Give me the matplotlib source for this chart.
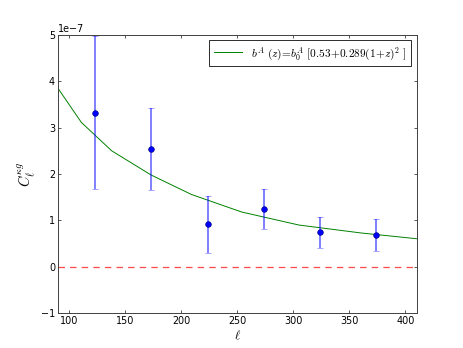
import matplotlib
matplotlib.use("Agg")
import matplotlib.pyplot as plt
import numpy as np

# measured C_ell^{kappa g} band powers
ell = [123, 173, 224, 274, 324, 374]
cl = [3.32e-7, 2.53e-7, 0.915e-7, 1.245e-7, 0.74e-7, 0.68e-7]
cl_err = [1.65e-7, 0.885e-7, 0.62e-7, 0.44e-7, 0.33e-7, 0.35e-7]

# theory curve for the bias model
ell_th = [90, 111, 138, 173, 209, 254, 305, 360, 410]
cl_th = [3.85e-7, 3.11e-7, 2.50e-7, 1.98e-7, 1.56e-7, 1.18e-7, 0.90e-7, 0.73e-7, 0.605e-7]

plt.rcParams['mathtext.fontset'] = 'cm'
plt.rcParams['font.size'] = 12

fig = plt.figure(figsize=(463 / 58.0, 6), dpi=58)
ax = fig.add_axes([0.125, 0.1, 0.775, 0.8])

ax.plot(ell_th, cl_th, color='g', lw=1.2,
        label=r'$b^A\ (z)\!=\!b_0^A\ [0.53\!+\!0.289(1\!+\!z)^2\ ]$')
ax.errorbar(ell, cl, yerr=cl_err, fmt='o', color='b', ms=7,
            mec=(0, 0, 0.5), mew=0.8,
            ecolor=(0.0, 0.0, 1.0, 0.55), elinewidth=2.2, capsize=3.5,
            capthick=1.5)
ax.axhline(0, color=(1.0, 0.3, 0.3), ls='--', lw=1.6, dashes=(5, 4))

ax.set_xlim(90, 410)
ax.set_ylim(-1e-7, 5e-7)
ax.set_xlabel(r'$\ell$', fontsize=16)
ax.set_ylabel(r'$C_\ell^{\kappa g}$', fontsize=18)

ax.tick_params(direction='in', top=True, right=True, length=4, labelsize=12)
for s in ax.spines.values():
    s.set_linewidth(1.2)
    s.set_edgecolor('0.25')

leg = ax.legend(loc='upper right', fontsize=14, fancybox=False,
                framealpha=1.0, borderaxespad=0.5, handlelength=2.5)
leg.get_frame().set_edgecolor('k')

fig.savefig('out.png', dpi=58)
